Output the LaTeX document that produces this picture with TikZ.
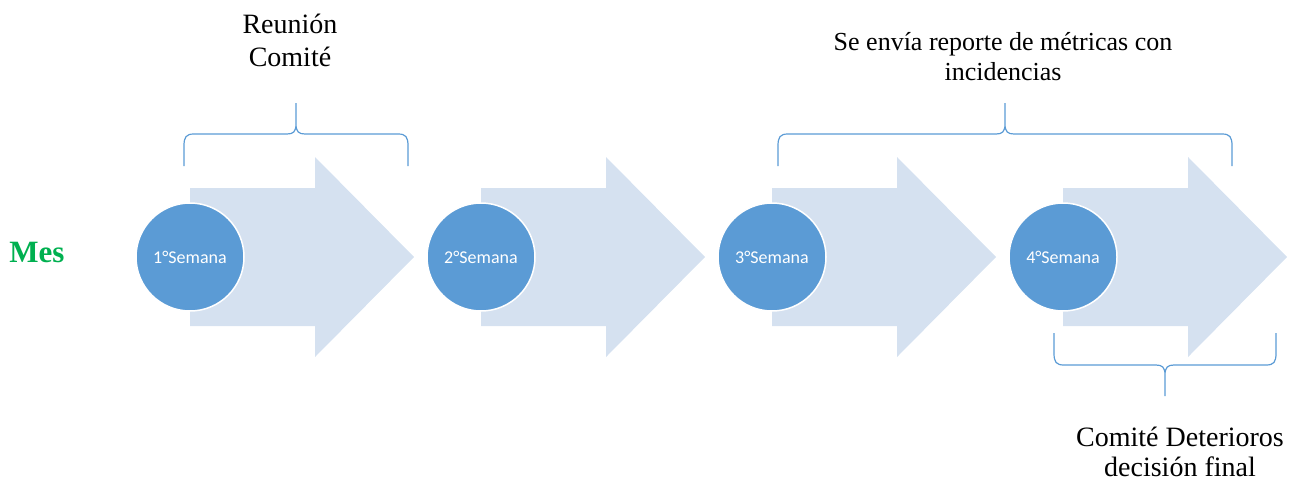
\documentclass[tikz,border=0pt]{standalone}
\usepackage{fontspec}
\setmainfont{Liberation Serif}
\newfontfamily\calibri{Carlito}
\usetikzlibrary{positioning}
\definecolor{circazul}{HTML}{5B9BD5}
\definecolor{flechaclara}{HTML}{D5E1F0}
\definecolor{verdemes}{HTML}{00B050}

\begin{document}
\begin{tikzpicture}[
  x=1pt,y=-1pt,
  semana/.style={circle,fill=circazul,draw=white,line width=1.5pt,minimum size=108pt,
                 inner sep=0pt,text=white,font=\calibri\fontsize{18}{20}\selectfont},
  flecha/.style={fill=flechaclara,draw=none},
  llavelinea/.style={draw=circazul,line width=1.2pt},
  etiqueta/.style={align=center,inner sep=0pt},
  pics/llave/.style={code={
    \draw[llavelinea] (-#1,32) -- (-#1,12) .. controls (-#1,3) and (-#1+2,0) .. (-#1+10,0)
      -- (-9,0) .. controls (-3,0) and (0,-2) .. (0,-10) -- (0,-31)
      (0,-10) .. controls (0,-2) and (3,0) .. (9,0) -- (#1-10,0)
      .. controls (#1-2,0) and (#1,3) .. (#1,12) -- (#1,32);
  }}
]
  \useasboundingbox (0,0) rectangle (1300,483);
  % flechas de fondo
  \foreach \cx in {190,481,772,1063}
    \fill[flecha] (\cx,188) -- (\cx+125,188) -- (\cx+125,157) -- (\cx+224,257)
      -- (\cx+125,357) -- (\cx+125,326) -- (\cx,326) -- cycle;
  % semanas
  \foreach \i/\cx in {1/190,2/481,3/772,4/1063}
    \node[semana] (sem\i) at (\cx,257) {\i°Semana};
  \node[font=\bfseries\fontsize{31}{36}\selectfont,text=verdemes] (mes) at (37,252) {Mes};
  % llaves
  \pic at (296,134) {llave=112};
  \pic at (1005,134) {llave=227};
  \pic[yscale=-1] at (1165,365) {llave=111};
  \node[etiqueta,font=\fontsize{28}{33}\selectfont] (reunion) at (290,40) {Reunión\\Comité};
  \node[etiqueta,font=\fontsize{26}{30}\selectfont] (reporte) at (1003,57)
    {Se envía reporte de métricas con\\incidencias};
  \node[etiqueta,font=\fontsize{28}{30}\selectfont] (comite) at (1180,452)
    {Comité Deterioros\\decisión final};
\end{tikzpicture}
\end{document}
